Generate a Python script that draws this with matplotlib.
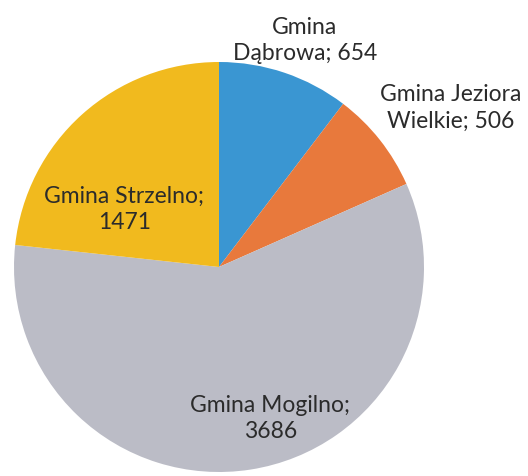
import numpy as np
import matplotlib
matplotlib.use("Agg")
import matplotlib.pyplot as plt

# dane z wykresu
gminy = ["Gmina Dąbrowa", "Gmina Jeziora Wielkie", "Gmina Mogilno", "Gmina Strzelno"]
wartosci = [654, 506, 3686, 1471]
etykiety = ["Gmina\nDąbrowa; 654", "Gmina Jeziora\nWielkie; 506",
            "Gmina Mogilno;\n3686", "Gmina Strzelno;\n1471"]
kolory = ["#3a96d2", "#e8793c", "#bbbcc6", "#f1ba1e"]

W, H = 528, 476
fig = plt.figure(figsize=(W / 100, H / 100), dpi=100)
ax = fig.add_axes([0, 0, 1, 1])

cx, cy, r = 219, H - 267, 205
wedges, _ = ax.pie(wartosci, colors=kolory, startangle=90, counterclock=False,
                   center=(cx, cy), radius=r, frame=True,
                   wedgeprops=dict(linewidth=0))

# polozenie etykiet: kat (stopnie) i odleglosc od srodka (w promieniach)
pos_lab = [(69.2, 1.18), (34.5, 1.37), (-71.3, 0.78), (148.8, 0.54)]
for txt, (ang, d) in zip(etykiety, pos_lab):
    a = np.deg2rad(ang)
    ax.text(cx + d * r * np.cos(a), cy + d * r * np.sin(a), txt,
            ha="center", va="center", fontsize=16.5, family="Lato",
            color="#2b2b2b", linespacing=1.3)

ax.set_xlim(0, W)
ax.set_ylim(0, H)
ax.set_aspect("equal")
ax.axis("off")

fig.savefig("out.png", dpi=100)
